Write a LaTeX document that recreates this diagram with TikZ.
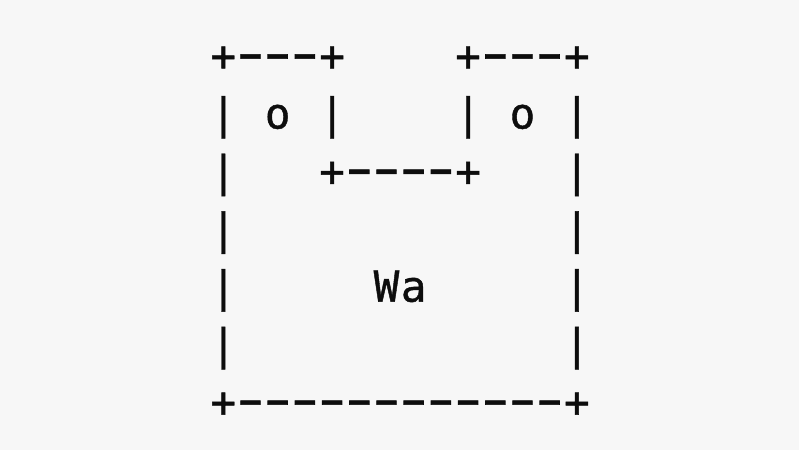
\documentclass[tikz,border=0pt]{standalone}
\usepackage{fontspec}
\usepackage{graphicx}
\setmonofont{DejaVu Sans Mono}[FakeBold=1.0]
\newfontfamily\hyfont{DejaVu Sans}[FakeBold=1.0]
\definecolor{bg}{HTML}{F7F7F7}
\definecolor{ink}{HTML}{0D0D0D}
\newlength\cellw
\setlength\cellw{27.2pt}
\makeatletter
\newcommand\cells[1]{\@tfor\cc:=#1\do{\makebox[\cellw][c]{\cc}}}
\makeatother
\newcommand\hy{{\hyfont\fontsize{75}{75}\selectfont\scalebox{1}[0.7]{-}}}
\begin{document}
\begin{tikzpicture}[x=1pt,y=1pt,
  asciirow/.style={anchor=base west,inner sep=0pt,outer sep=0pt,text=ink,
    font=\ttfamily\fontsize{42.5}{57.7}\selectfont}]
\fill[bg] (0,0) rectangle (799,450);
\useasboundingbox (0,0) rectangle (799,450);
\def\xl{209.7}
\def\yb{70.8}
\def\dy{57.7}
\node[asciirow] (r0) at (\xl,{450-\yb}) {\cells{+\hy\hy\hy+~~~~+\hy\hy\hy+}};
\node[asciirow] (r1) at (\xl,{450-\yb-\dy}) {\cells{|~o~|~~~~|~o~|}};
\node[asciirow] (r2) at (\xl,{450-\yb-2*\dy}) {\cells{|~~~+\hy\hy\hy\hy+~~~|}};
\node[asciirow] (r3) at (\xl,{450-\yb-3*\dy}) {\cells{|~~~~~~~~~~~~|}};
\node[asciirow] (r4) at (\xl,{450-\yb-4*\dy}) {\cells{|~~~~~Wa~~~~~|}};
\node[asciirow] (r5) at (\xl,{450-\yb-5*\dy}) {\cells{|~~~~~~~~~~~~|}};
\node[asciirow] (r6) at (\xl,{450-\yb-6*\dy}) {\cells{+\hy\hy\hy\hy\hy\hy\hy\hy\hy\hy\hy\hy+}};
\end{tikzpicture}
\end{document}
